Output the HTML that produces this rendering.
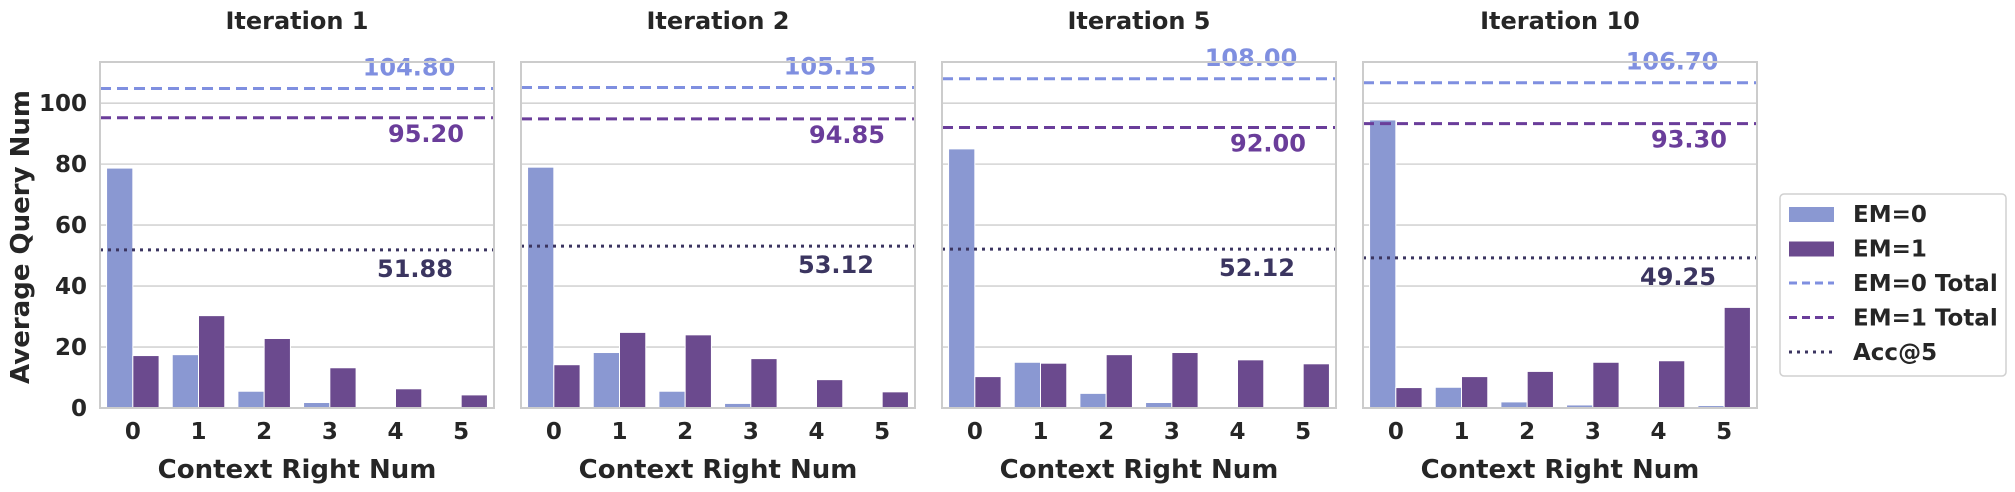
<!DOCTYPE html>
<html><head><meta charset="utf-8"><style>
html,body{margin:0;padding:0;background:#fff;}
svg{display:block;font-family:"DejaVu Sans","Liberation Sans",sans-serif;font-weight:bold;}
</style></head><body>
<svg id="chart" width="2015" height="492" viewBox="0 0 2015 492" xmlns="http://www.w3.org/2000/svg"></svg>
<script>
const categories = ["0","1","2","3","4","5"];
const panelTitles = ["Iteration 1","Iteration 2","Iteration 5","Iteration 10"];
const em0Values = [[78.7,17.5,5.5,1.8,0,0],[79,18.2,5.5,1.5,0,0],[85,15,4.8,1.8,0,0],[94.5,6.8,2,1,0.3,0.8]];
const em1Values = [[17.2,30.3,22.8,13.2,6.3,4.3],[14.2,24.8,24,16.2,9.3,5.3],[10.3,14.7,17.5,18.2,15.8,14.5],[6.7,10.3,12,15,15.5,33]];
const em0Totals = [104.80,105.15,108.00,106.70];
const em1Totals = [95.20,94.85,92.00,93.30];
const acc5 = [51.88,53.12,52.12,49.25];
const yTicks = [0,20,40,60,80,100];

const svg = document.getElementById('chart');
const NS = 'http://www.w3.org/2000/svg';
function mk(tag, attrs, parent){const e=document.createElementNS(NS,tag);for(const k in attrs)e.setAttribute(k,attrs[k]);(parent||svg).appendChild(e);return e;}
const C0='#8a98d2',C1='#6b4a8e',L0='#7f8fe0',L1='#6a3d9a',LA='#3b3560';
const yTop=62,yBottom=408,yMax=113.5,pw=394,gap=27,left0=100;
const yS=v=>yBottom-(v/yMax)*(yBottom-yTop);

panelTitles.forEach((t,p)=>{
  const L=left0+p*(pw+gap),R=L+pw,band=pw/categories.length;
  const g=mk('g',{});
  
  
  yTicks.forEach(v=>{
    const gl=mk('line',{x1:L,x2:R,y1:yS(v),y2:yS(v),stroke:'#d4d4d4','stroke-width':1.6},g);
    
    
  });
  categories.forEach((c,i)=>{
    const cx=L+band*(i+0.5),bw=band*0.4;
    const b0=mk('rect',{x:cx-bw,y:yS(em0Values[p][i]),width:bw,height:yBottom-yS(em0Values[p][i]),fill:C0,stroke:'#fff','stroke-width':1},g);
    
    
    const b1=mk('rect',{x:cx,y:yS(em1Values[p][i]),width:bw,height:yBottom-yS(em1Values[p][i]),fill:C1,stroke:'#fff','stroke-width':1},g);
    
    
    const tl=mk('text',{x:cx,y:439,'text-anchor':'middle','font-size':23,fill:'#262626'},g);
    tl.textContent=c;
    
    
  });
  const l0=mk('line',{x1:L,x2:R,y1:yS(em0Totals[p]),y2:yS(em0Totals[p]),stroke:L0,'stroke-width':3,'stroke-dasharray':'11,6'},g);
  
  
  const l1=mk('line',{x1:L,x2:R,y1:yS(em1Totals[p]),y2:yS(em1Totals[p]),stroke:L1,'stroke-width':3,'stroke-dasharray':'11,6'},g);
  
  
  const la=mk('line',{x1:L,x2:R,y1:yS(acc5[p]),y2:yS(acc5[p]),stroke:LA,'stroke-width':3,'stroke-dasharray':'3,5'},g);
  
  
  const t0=mk('text',{x:L+309,y:yS(em0Totals[p])-13,'text-anchor':'middle','font-size':24,fill:L0},g);
  t0.textContent=em0Totals[p].toFixed(2);
  
  
  const t1=mk('text',{x:L+326,y:yS(em1Totals[p])+24,'text-anchor':'middle','font-size':24,fill:L1},g);
  t1.textContent=em1Totals[p].toFixed(2);
  
  
  const ta=mk('text',{x:L+315,y:yS(acc5[p])+27,'text-anchor':'middle','font-size':24,fill:LA},g);
  ta.textContent=acc5[p].toFixed(2);
  
  
  const fr=mk('rect',{x:L,y:yTop,width:pw,height:yBottom-yTop,fill:'none',stroke:'#cccccc','stroke-width':2},g);
  
  
  const ti=mk('text',{x:(L+R)/2,y:29,'text-anchor':'middle','font-size':24,fill:'#262626'},g);
  ti.textContent=t;
  
  
  const xl=mk('text',{x:(L+R)/2,y:478,'text-anchor':'middle','font-size':26,fill:'#262626'},g);
  xl.textContent='Context Right Num';
  
  
});
yTicks.forEach(v=>{
  const t=mk('text',{x:87,y:yS(v)+8,'text-anchor':'end','font-size':23,fill:'#262626'});
  t.textContent=v;
  
  
});
const yl=mk('text',{x:0,y:0,'text-anchor':'middle','font-size':26,fill:'#262626',transform:'translate(29,237) rotate(-90)'});
yl.textContent='Average Query Num';



const lg=mk('g',{});


mk('rect',{x:1780,y:194,width:226,height:182,rx:4,fill:'#fff',stroke:'#d0d0d0','stroke-width':1.5},lg);
const items=[['EM=0','patch',C0],['EM=1','patch',C1],['EM=0 Total','dash',L0],['EM=1 Total','dash',L1],['Acc@5','dot',LA]];
items.forEach((it,i)=>{
  const cy=214+i*34.5;
  const e=mk('g',{},lg);
  
  
  if(it[1]==='patch') mk('rect',{x:1789,y:cy-7,width:45,height:15,fill:it[2]},e);
  else mk('line',{x1:1789,x2:1834,y1:cy,y2:cy,stroke:it[2],'stroke-width':3,'stroke-dasharray':it[1]==='dash'?'8,5':'3,5'},e);
  const t=mk('text',{x:1853,y:cy+8,'font-size':23,fill:'#262626'},e);
  t.textContent=it[0];
});
</script>
</body></html>
